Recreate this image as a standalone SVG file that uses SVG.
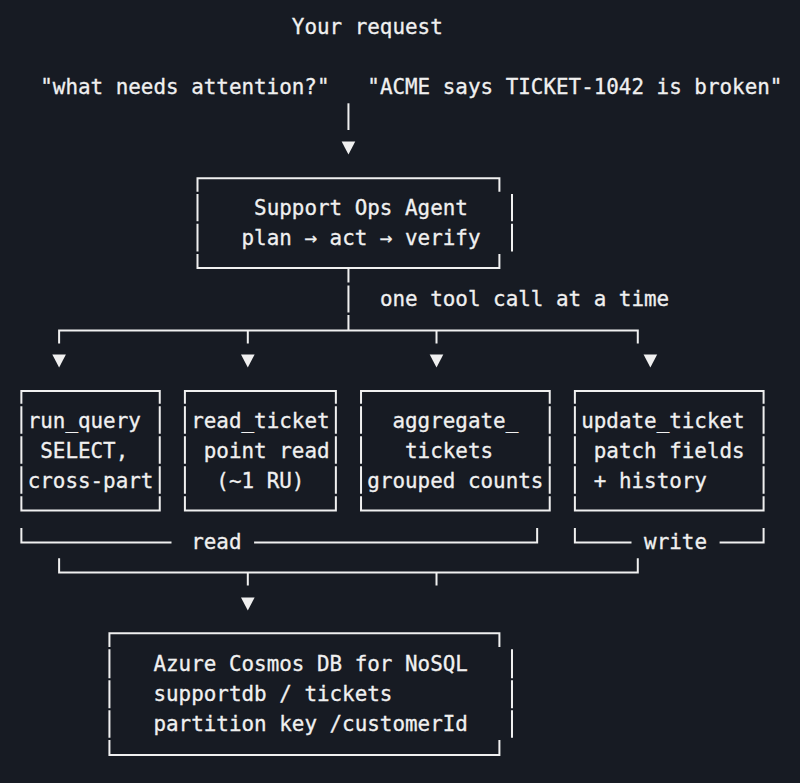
<svg xmlns="http://www.w3.org/2000/svg" width="800" height="783" viewBox="0 0 800 783">
<style>
.t{font-family:"DejaVu Sans Mono","Liberation Mono",monospace;font-size:20.9px;fill:#f0f0f0;stroke:#f0f0f0;stroke-width:0.3}
.ln{stroke:#f0f0f0;stroke-width:2;fill:none;stroke-linejoin:miter}
.ar{fill:#f0f0f0}
</style>
<defs>
<path id="tri" d="M-6.8,0 H6.8 L0,13 Z"/>
</defs>
<rect width="800" height="783" fill="#171b23"/>

<g id="request">
<text class="t" x="291.84" y="33.5">Your request</text>
<text class="t" x="40.24" y="94">"what needs attention?"</text>
<text class="t" x="367.32" y="94">"ACME says TICKET-1042 is broken"</text>
</g>

<g id="agent">
<path class="ln" d="M197.5,191.7 V178.3 H499.4 V191.7"/>
<path class="ln" d="M197.5,194 V221.3 M197.5,223.7 V251.5 M512,194 V221.3 M512,223.7 V251.5"/>
<path class="ln" d="M197.5,254 V268 H499.4 V254"/>
<text class="t" x="254.1" y="215">Support Ops Agent</text>
<text class="t" x="241.52" y="244.5">plan → act → verify</text>
</g>

<g id="tool_run_query">
<path class="ln" d="M21.37,403.8 V391 H159.75 V403.8"/>
<path class="ln" d="M21.37,406.2 V433.8 M21.37,436.2 V463.8 M21.37,466.2 V493.8 M159.75,406.2 V433.8 M159.75,436.2 V463.8 M159.75,466.2 V493.8"/>
<path class="ln" d="M21.37,496.2 V510.5 H159.75 V496.2"/>
<text class="t" x="27.66" y="427.5">run_query</text>
<text class="t" x="40.24" y="457.5">SELECT,</text>
<text class="t" x="27.66" y="487.5">cross-part</text>
</g>

<g id="tool_read_ticket">
<path class="ln" d="M184.91,403.8 V391 H335.87 V403.8"/>
<path class="ln" d="M184.91,406.2 V433.8 M184.91,436.2 V463.8 M184.91,466.2 V493.8 M335.87,406.2 V433.8 M335.87,436.2 V463.8 M335.87,466.2 V493.8"/>
<path class="ln" d="M184.91,496.2 V510.5 H335.87 V496.2"/>
<text class="t" x="191.2" y="427.5">read_ticket</text>
<text class="t" x="203.78" y="457.5">point read</text>
<text class="t" x="216.36" y="487.5">(~1 RU)</text>
</g>

<g id="tool_aggregate_tickets">
<path class="ln" d="M361.03,403.8 V391 H549.73 V403.8"/>
<path class="ln" d="M361.03,406.2 V433.8 M361.03,436.2 V463.8 M361.03,466.2 V493.8 M549.73,406.2 V433.8 M549.73,436.2 V463.8 M549.73,466.2 V493.8"/>
<path class="ln" d="M361.03,496.2 V510.5 H549.73 V496.2"/>
<text class="t" x="392.48" y="427.5">aggregate_</text>
<text class="t" x="405.06" y="457.5">tickets</text>
<text class="t" x="367.32" y="487.5">grouped counts</text>
</g>

<g id="tool_update_ticket">
<path class="ln" d="M574.89,403.8 V391 H763.59 V403.8"/>
<path class="ln" d="M574.89,406.2 V433.8 M574.89,436.2 V463.8 M574.89,466.2 V493.8 M763.59,406.2 V433.8 M763.59,436.2 V463.8 M763.59,466.2 V493.8"/>
<path class="ln" d="M574.89,496.2 V510.5 H763.59 V496.2"/>
<text class="t" x="581.18" y="427.5">update_ticket</text>
<text class="t" x="593.76" y="457.5">patch fields</text>
<text class="t" x="593.76" y="487.5">+ history</text>
</g>

<g id="cosmos">
<path class="ln" d="M109.43,647 V633.3 H499.41 V647"/>
<path class="ln" d="M109.43,649.3 V678.3 M109.43,680.3 V708.3 M109.43,710.3 V737.7 M511.99,649.3 V678.3 M511.99,680.3 V708.3 M511.99,710.3 V737.7"/>
<path class="ln" d="M109.43,740 V755 H499.41 V740"/>
<text class="t" x="153.46" y="670.8">Azure Cosmos DB for NoSQL</text>
<text class="t" x="153.46" y="701">supportdb / tickets</text>
<text class="t" x="153.46" y="730.7">partition key /customerId</text>
</g>

<g id="connectors">
<path class="ln" d="M348.45,103.3 V130"/>
<use href="#tri" class="ar" x="348.45" y="141.5"/>
<path class="ln" d="M348.45,268 V282.5 M348.45,285.5 V312.5 M348.45,315 V330.5"/>
<text class="t" x="379.9" y="306">one tool call at a time</text>
<path class="ln" d="M59.11,343.5 V330.5 H637.79 V343.5 M247.81,330.5 V343.5 M436.51,330.5 V343.5"/>
<use href="#tri" class="ar" x="59.11" y="354.5"/>
<use href="#tri" class="ar" x="247.81" y="354.5"/>
<use href="#tri" class="ar" x="436.51" y="354.5"/>
<use href="#tri" class="ar" x="650.37" y="354.5"/>
<path class="ln" d="M21.37,528 V542.5 H171.5 M254.1,542.5 H537.15 V528"/>
<text class="t" x="191.2" y="549">read</text>
<path class="ln" d="M574.89,528 V542.5 H631.5 M719.6,542.5 H763.59 V528"/>
<text class="t" x="644.08" y="549">write</text>
<path class="ln" d="M59.11,558.3 V572.5 H637.79 V558.3 M247.81,572.5 V585.5 M436.51,572.5 V585.5"/>
<use href="#tri" class="ar" x="247.81" y="597.5"/>
</g>
</svg>
